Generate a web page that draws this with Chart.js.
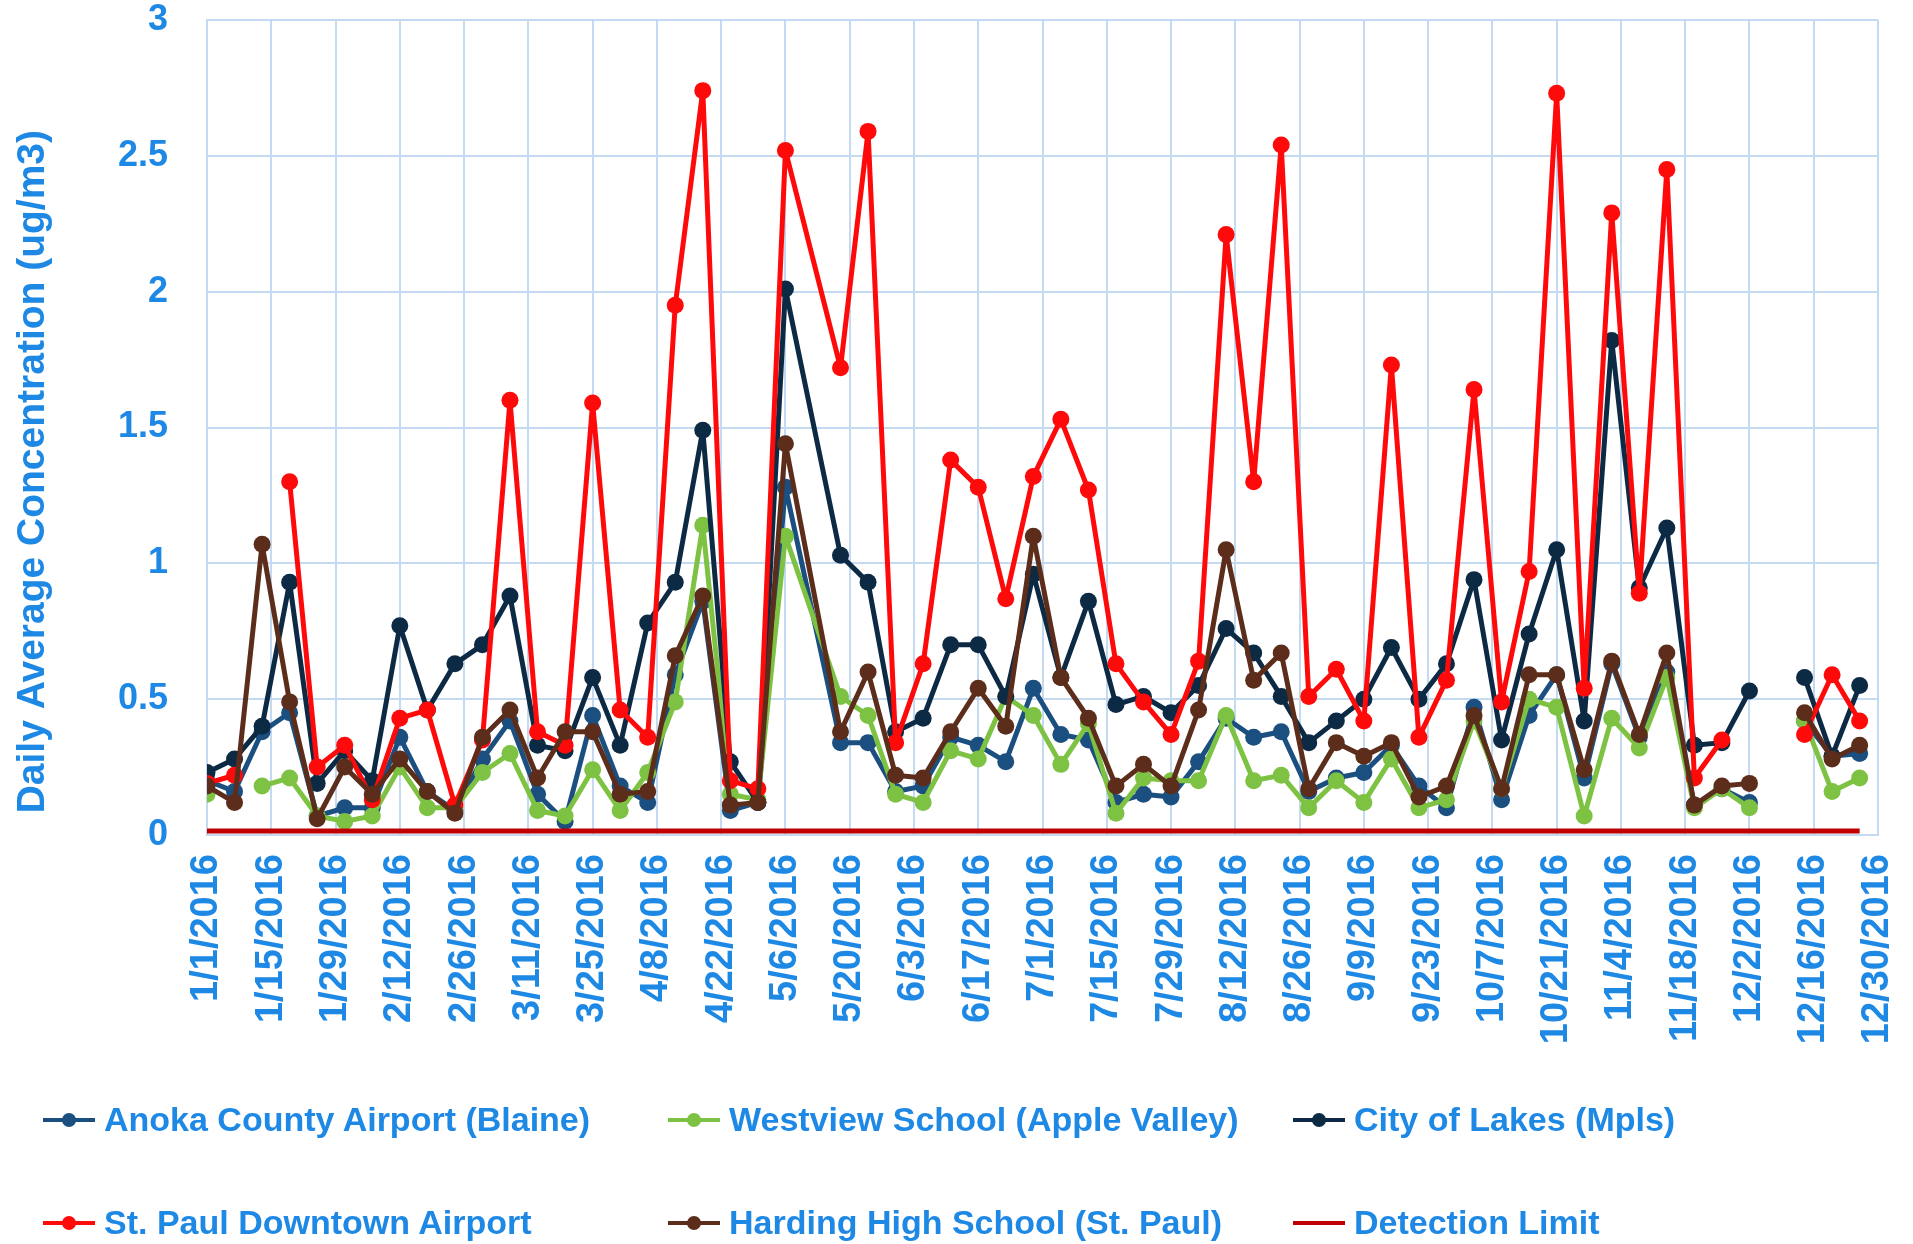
<!DOCTYPE html>
<html>
<head>
<meta charset="utf-8">
<script src="https://cdn.jsdelivr.net/npm/chart.js@4.4.0/dist/chart.umd.min.js"></script>
<style>
  body { margin: 0; background: #ffffff; }
  #wrap { position: relative; width: 1913px; height: 1244px; overflow: hidden; }
  #legend {
    position: absolute; left: 43px; top: 1068px;
    display: grid; grid-template-columns: 625px 625px 625px; grid-auto-rows: 103px;
    font-family: 'Liberation Sans', Arial, sans-serif; font-weight: bold; font-size: 34px; color: #1E88E5;
  }
  .item { display: flex; align-items: center; white-space: nowrap; }
  .mark { position: relative; width: 52px; height: 4px; margin-right: 9px; }
  .mark i { position: absolute; left: 19px; top: -5px; width: 14px; height: 14px; border-radius: 50%; }
</style>
</head>
<body>
<div id="wrap">
  <canvas id="chart" width="1913" height="1075"></canvas>
  <div id="legend"></div>
</div>
<script>
// fechas de muestreo (cada 6 dias, falta 5/12)
var sampleDates = ["1/1/2016", "1/7/2016", "1/13/2016", "1/19/2016", "1/25/2016", "1/31/2016",
  "2/6/2016", "2/12/2016", "2/18/2016", "2/24/2016",
  "3/1/2016", "3/7/2016", "3/13/2016", "3/19/2016", "3/25/2016", "3/31/2016",
  "4/6/2016", "4/12/2016", "4/18/2016", "4/24/2016", "4/30/2016",
  "5/6/2016", "5/18/2016", "5/24/2016", "5/30/2016",
  "6/5/2016", "6/11/2016", "6/17/2016", "6/23/2016", "6/29/2016",
  "7/5/2016", "7/11/2016", "7/17/2016", "7/23/2016", "7/29/2016",
  "8/4/2016", "8/10/2016", "8/16/2016", "8/22/2016", "8/28/2016",
  "9/3/2016", "9/9/2016", "9/15/2016", "9/21/2016", "9/27/2016",
  "10/3/2016", "10/9/2016", "10/15/2016", "10/21/2016", "10/27/2016",
  "11/2/2016", "11/8/2016", "11/14/2016", "11/20/2016", "11/26/2016",
  "12/2/2016", "12/8/2016", "12/14/2016", "12/20/2016", "12/26/2016"];

var tickLabels = ["1/1/2016", "1/15/2016", "1/29/2016", "2/12/2016", "2/26/2016", "3/11/2016",
  "3/25/2016", "4/8/2016", "4/22/2016", "5/6/2016", "5/20/2016", "6/3/2016", "6/17/2016",
  "7/1/2016", "7/15/2016", "7/29/2016", "8/12/2016", "8/26/2016", "9/9/2016", "9/23/2016",
  "10/7/2016", "10/21/2016", "11/4/2016", "11/18/2016", "12/2/2016", "12/16/2016", "12/30/2016"];

var anoka = [0.20, 0.16, 0.38, 0.45, 0.07, 0.10, 0.10, 0.36, 0.16, 0.09,
  0.28, 0.42, 0.15, 0.05, 0.44, 0.18, 0.12, 0.59, 0.86, 0.09,
  0.12, 1.28, 0.34, 0.34, 0.16, 0.18, 0.36, 0.33, 0.27,
  0.54, 0.37, 0.35, 0.12, 0.15, 0.14, 0.27, 0.43, 0.36, 0.38,
  0.16, 0.21, 0.23, 0.33, 0.18, 0.10, 0.47, 0.13, 0.44, 0.59,
  0.21, 0.63, 0.36, 0.60, 0.11, 0.17, 0.12, null, 0.42, 0.29, 0.30];

var westview = [0.15, null, 0.18, 0.21, 0.07, 0.05, 0.07, 0.25, 0.10, 0.10,
  0.23, 0.30, 0.09, 0.07, 0.24, 0.09, 0.23, 0.49, 1.14, 0.15,
  0.13, 1.10, 0.51, 0.44, 0.15, 0.12, 0.31, 0.28, 0.51,
  0.44, 0.26, 0.41, 0.08, 0.21, 0.20, 0.20, 0.44, 0.20, 0.22,
  0.10, 0.20, 0.12, 0.28, 0.10, 0.13, 0.42, 0.17, 0.50, 0.47,
  0.07, 0.43, 0.32, 0.58, 0.10, 0.17, 0.10, null, 0.42, 0.16, 0.21];

var cityOfLakes = [0.23, 0.28, 0.40, 0.93, 0.19, 0.31, 0.20, 0.77, 0.46, 0.63,
  0.70, 0.88, 0.33, 0.31, 0.58, 0.33, 0.78, 0.93, 1.49, 0.27,
  0.12, 2.01, 1.03, 0.93, 0.38, 0.43, 0.70, 0.70, 0.51,
  0.96, 0.58, 0.86, 0.48, 0.51, 0.45, 0.55, 0.76, 0.67, 0.51,
  0.34, 0.42, 0.50, 0.69, 0.50, 0.63, 0.94, 0.35, 0.74, 1.05,
  0.42, 1.82, 0.91, 1.13, 0.33, 0.34, 0.53, null, 0.58, 0.29, 0.55];

var stPaul = [0.19, 0.22, null, 1.30, 0.25, 0.33, 0.13, 0.43, 0.46, 0.11,
  0.35, 1.60, 0.38, 0.33, 1.59, 0.46, 0.36, 1.95, 2.74, 0.20,
  0.17, 2.52, 1.72, 2.59, 0.34, 0.63, 1.38, 1.28, 0.87,
  1.32, 1.53, 1.27, 0.63, 0.49, 0.37, 0.64, 2.21, 1.30, 2.54,
  0.51, 0.61, 0.42, 1.73, 0.36, 0.57, 1.64, 0.49, 0.97, 2.73,
  0.54, 2.29, 0.89, 2.45, 0.21, 0.35, null, null, 0.37, 0.59, 0.42];

var harding = [0.18, 0.12, 1.07, 0.49, 0.06, 0.25, 0.15, 0.28, 0.16, 0.08,
  0.36, 0.46, 0.21, 0.38, 0.38, 0.15, 0.16, 0.66, 0.88, 0.11,
  0.12, 1.44, 0.38, 0.60, 0.22, 0.21, 0.38, 0.54, 0.40,
  1.10, 0.58, 0.43, 0.18, 0.26, 0.18, 0.46, 1.05, 0.57, 0.67,
  0.17, 0.34, 0.29, 0.34, 0.14, 0.18, 0.44, 0.17, 0.59, 0.59,
  0.24, 0.64, 0.37, 0.67, 0.11, 0.18, 0.19, null, 0.45, 0.28, 0.33];

var detectionLimit = 0.015;

var textBlue = "#1E88E5";
var gridBlue = "#C3DAF0";
var fontFam = "'Liberation Sans', Arial, sans-serif";

// dia del anio para cada fecha
function dayOfYear(s) {
  var p = s.split("/");
  return (Date.UTC(+p[2], +p[0] - 1, +p[1]) - Date.UTC(2016, 0, 1)) / 86400000;
}
var days = sampleDates.map(dayOfYear);
var tickDays = tickLabels.map(dayOfYear);

function pts(values) {
  return days.map(function (d, i) { return { x: d, y: values[i] }; });
}

function series(label, values, color, order) {
  return {
    label: label,
    data: pts(values),
    borderColor: color,
    backgroundColor: color,
    pointBackgroundColor: color,
    pointBorderColor: color,
    borderWidth: 5,
    borderJoinStyle: "round",
    borderCapStyle: "round",
    pointRadius: 8.5,
    pointHoverRadius: 8.5,
    pointBorderWidth: 0,
    tension: 0,
    spanGaps: false,
    order: order,
  };
}

var datasets = [
  series("Anoka County Airport (Blaine)", anoka, "#1B4F80", 6),
  series("Westview School (Apple Valley)", westview, "#7DC242", 5),
  series("City of Lakes (Mpls)", cityOfLakes, "#0D2A45", 4),
  series("St. Paul Downtown Airport", stPaul, "#FF0A0A", 3),
  series("Harding High School (St. Paul)", harding, "#5C2D1B", 2),
  {
    label: "Detection Limit",
    data: days.map(function (d) { return { x: d, y: detectionLimit }; }),
    borderColor: "#C00000",
    backgroundColor: "#C00000",
    borderWidth: 5,
    pointRadius: 0,
    order: 1,
  },
];

var ctx = document.getElementById("chart").getContext("2d");
var myChart = new Chart(ctx, {
  type: "line",
  data: { datasets: datasets },
  options: {
    responsive: false,
    animation: false,
    layout: { padding: { left: 0, right: 35, top: 20, bottom: 0 } },
    plugins: {
      legend: { display: false },
      tooltip: { enabled: false },
    },
    scales: {
      x: {
        type: "linear",
        min: 0,
        max: 364,
        afterFit: function (scale) {
          scale.height = 240;
          scale.paddingLeft = 0;
          scale.paddingRight = 0;
        },
        afterBuildTicks: function (scale) {
          scale.ticks = tickDays.map(function (d) { return { value: d }; });
        },
        ticks: {
          autoSkip: false,
          maxRotation: 90,
          minRotation: 90,
          padding: 19,
          color: textBlue,
          font: { family: fontFam, size: 38, weight: "bold" },
          callback: function (value) {
            var i = tickDays.indexOf(value);
            return i >= 0 ? tickLabels[i] : "";
          },
        },
        grid: { color: gridBlue, lineWidth: 2, drawTicks: false },
        border: { color: gridBlue, width: 2 },
      },
      y: {
        min: 0,
        max: 3,
        afterFit: function (scale) {
          scale.width = 207;
          scale.paddingTop = 0;
          scale.paddingBottom = 0;
        },
        ticks: {
          stepSize: 0.5,
          padding: 39,
          color: textBlue,
          font: { family: fontFam, size: 36, weight: "bold" },
          callback: function (value) { return String(value); },
        },
        grid: { color: gridBlue, lineWidth: 2, drawTicks: false },
        border: { color: gridBlue, width: 2 },
        title: {
          display: true,
          text: "\u00A0\u00A0Daily Average Concentration (ug/m3)",
          align: "start",
          color: textBlue,
          font: { family: fontFam, size: 39, weight: "bold" },
          padding: { top: 10, bottom: 0 },
        },
      },
    },
  },
});

// leyenda HTML en cuadricula de 3 columnas
var legendEl = document.getElementById("legend");
myChart.data.datasets.forEach(function (ds) {
  var item = document.createElement("div");
  item.className = "item";
  var mark = document.createElement("span");
  mark.className = "mark";
  mark.style.background = ds.borderColor;
  if (ds.pointRadius > 0) {
    var dot = document.createElement("i");
    dot.style.background = ds.borderColor;
    mark.appendChild(dot);
  }
  item.appendChild(mark);
  item.appendChild(document.createTextNode(ds.label));
  legendEl.appendChild(item);
});
</script>
</body>
</html>
